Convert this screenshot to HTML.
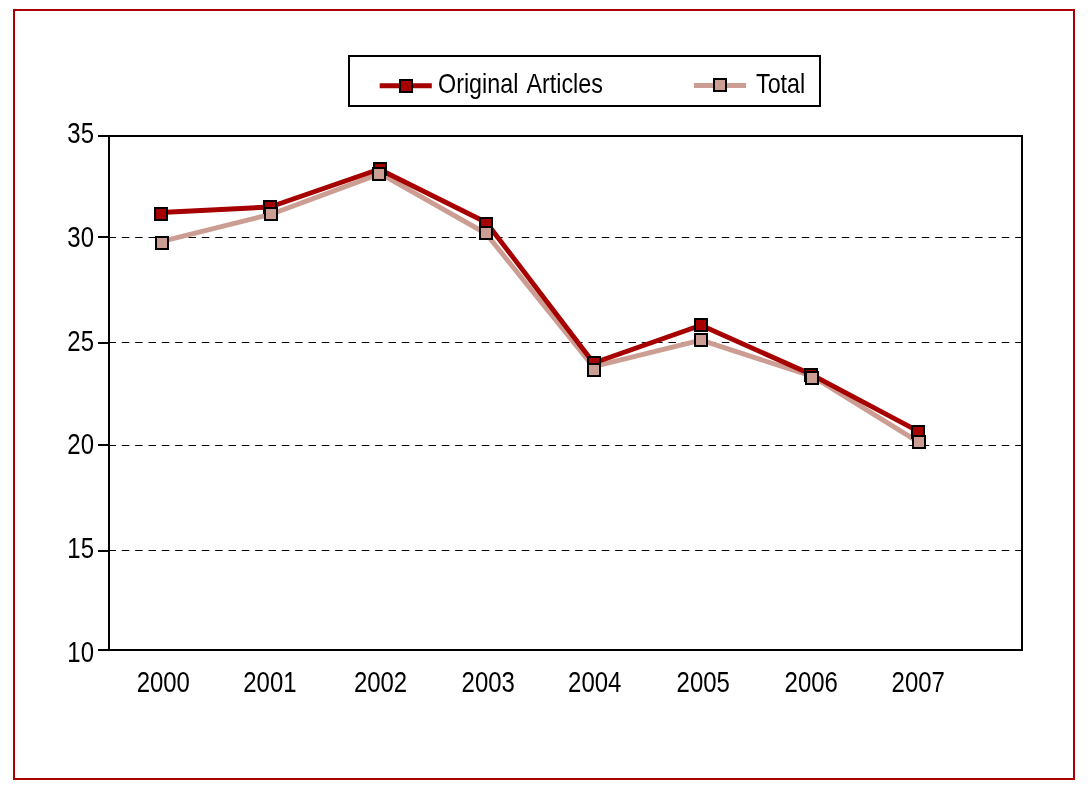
<!DOCTYPE html>
<html lang="en">
<head>
<meta charset="utf-8">
<title>Original Articles vs Total, 2000-2007</title>
<style>
html,body{margin:0;padding:0;background:#fff;}
body{width:1088px;height:789px;overflow:hidden;}
svg{display:block;}
text{font-family:"Liberation Sans",sans-serif;fill:#000;}
</style>
</head>
<body>
<svg width="1088" height="789" viewBox="0 0 1088 789">
<rect x="0" y="0" width="1088" height="789" fill="#fff"/>

<rect x="14" y="10" width="1060" height="769" fill="none" stroke="#aa0004" stroke-width="2"/>
<line x1="108.5" y1="237.5" x2="1022" y2="237.5" stroke="#000" stroke-width="1" stroke-dasharray="7.5 5.833"/>
<line x1="108.5" y1="342.5" x2="1022" y2="342.5" stroke="#000" stroke-width="1" stroke-dasharray="7.5 5.833"/>
<line x1="108.5" y1="445.5" x2="1022" y2="445.5" stroke="#000" stroke-width="1" stroke-dasharray="7.5 5.833"/>
<line x1="108.5" y1="550.5" x2="1022" y2="550.5" stroke="#000" stroke-width="1" stroke-dasharray="7.5 5.833"/>
<rect x="109" y="136" width="913" height="514" fill="none" stroke="#000" stroke-width="2"/>
<line x1="98" y1="136" x2="109" y2="136" stroke="#000" stroke-width="2"/>
<line x1="98" y1="237" x2="109" y2="237" stroke="#000" stroke-width="2"/>
<line x1="98" y1="343" x2="109" y2="343" stroke="#000" stroke-width="2"/>
<line x1="98" y1="445" x2="109" y2="445" stroke="#000" stroke-width="2"/>
<line x1="98" y1="551" x2="109" y2="551" stroke="#000" stroke-width="2"/>
<line x1="98" y1="650" x2="109" y2="650" stroke="#000" stroke-width="2"/>
<text transform="translate(94,143) scale(0.8255,1)" font-size="29" text-anchor="end">35</text>
<text transform="translate(94,247) scale(0.8255,1)" font-size="29" text-anchor="end">30</text>
<text transform="translate(94,351) scale(0.8255,1)" font-size="29" text-anchor="end">25</text>
<text transform="translate(94,454) scale(0.8255,1)" font-size="29" text-anchor="end">20</text>
<text transform="translate(94,558) scale(0.8255,1)" font-size="29" text-anchor="end">15</text>
<text transform="translate(94,662) scale(0.8255,1)" font-size="29" text-anchor="end">10</text>
<text transform="translate(136.65,692) scale(0.8255,1)" font-size="29" text-anchor="start">2000</text>
<text transform="translate(243.3,692) scale(0.8255,1)" font-size="29" text-anchor="start">2001</text>
<text transform="translate(353.9,692) scale(0.8255,1)" font-size="29" text-anchor="start">2002</text>
<text transform="translate(461.6,692) scale(0.8255,1)" font-size="29" text-anchor="start">2003</text>
<text transform="translate(568.1,692) scale(0.8255,1)" font-size="29" text-anchor="start">2004</text>
<text transform="translate(676.6,692) scale(0.8255,1)" font-size="29" text-anchor="start">2005</text>
<text transform="translate(784.6,692) scale(0.8255,1)" font-size="29" text-anchor="start">2006</text>
<text transform="translate(891.6,692) scale(0.8255,1)" font-size="29" text-anchor="start">2007</text>
<polyline points="162,241.3 271,214.2 380.3,173.6 486,233.5 593.3,366.7 701,340.2 812,376.2 919,442.4" fill="none" stroke="#cc9d92" stroke-width="4.9" stroke-linejoin="round"/>
<polyline points="161,212.5 270,207 379.2,169.3 486.4,222.5 593.6,363 701,325.3 811,374.3 918,431.2" fill="none" stroke="#a60000" stroke-width="4.9" stroke-linejoin="round"/>
<rect x="155" y="208" width="12" height="12" fill="#a60000" stroke="#000" stroke-width="2"/>
<rect x="264" y="201" width="12" height="12" fill="#a60000" stroke="#000" stroke-width="2"/>
<rect x="374" y="163" width="12" height="12" fill="#a60000" stroke="#000" stroke-width="2"/>
<rect x="480" y="218" width="12" height="12" fill="#a60000" stroke="#000" stroke-width="2"/>
<rect x="588" y="357" width="12" height="12" fill="#a60000" stroke="#000" stroke-width="2"/>
<rect x="695" y="319" width="12" height="12" fill="#a60000" stroke="#000" stroke-width="2"/>
<rect x="805" y="369" width="12" height="12" fill="#a60000" stroke="#000" stroke-width="2"/>
<rect x="912" y="426" width="12" height="12" fill="#a60000" stroke="#000" stroke-width="2"/>
<rect x="156" y="237" width="12" height="12" fill="#cc9d92" stroke="#000" stroke-width="2"/>
<rect x="265" y="208" width="12" height="12" fill="#cc9d92" stroke="#000" stroke-width="2"/>
<rect x="373" y="168" width="12" height="12" fill="#cc9d92" stroke="#000" stroke-width="2"/>
<rect x="480" y="227" width="12" height="12" fill="#cc9d92" stroke="#000" stroke-width="2"/>
<rect x="588" y="364" width="12" height="12" fill="#cc9d92" stroke="#000" stroke-width="2"/>
<rect x="695" y="334" width="12" height="12" fill="#cc9d92" stroke="#000" stroke-width="2"/>
<rect x="806" y="372" width="12" height="12" fill="#cc9d92" stroke="#000" stroke-width="2"/>
<rect x="913" y="436" width="12" height="12" fill="#cc9d92" stroke="#000" stroke-width="2"/>
<rect x="349" y="56" width="471" height="50" fill="#fff" stroke="#000" stroke-width="2"/>
<line x1="379.7" y1="85.8" x2="431.8" y2="85.8" stroke="#a60000" stroke-width="4.9"/>
<rect x="400" y="80" width="12" height="12" fill="#a60000" stroke="#000" stroke-width="2"/>
<text transform="translate(438,92.8) scale(0.848,1)" font-size="27.5" text-anchor="start" word-spacing="3.5">Original Articles</text>
<line x1="694" y1="85.45" x2="746" y2="85.45" stroke="#cc9d92" stroke-width="4.9"/>
<rect x="714" y="79" width="12" height="12" fill="#cc9d92" stroke="#000" stroke-width="2"/>
<text transform="translate(756,92.8) scale(0.848,1)" font-size="27.5" text-anchor="start">Total</text>
</svg>
</body>
</html>
